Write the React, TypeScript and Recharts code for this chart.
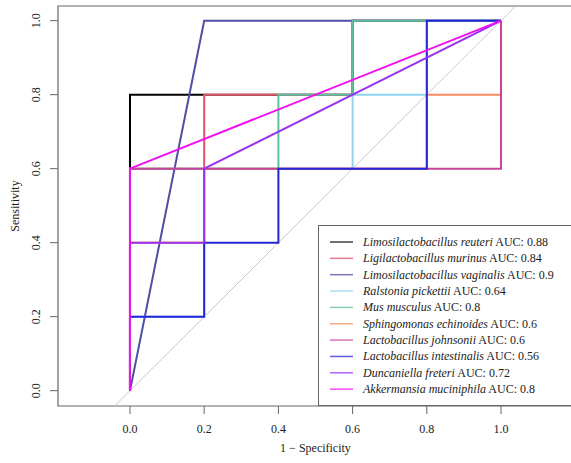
import React from 'react';
import { LineChart, Line, XAxis, YAxis, ReferenceArea } from 'recharts';

// ---- data ----
const xTicks = [0, 0.2, 0.4, 0.6, 0.8, 1.0];
const yTicks = [0, 0.2, 0.4, 0.6, 0.8, 1.0];
const xDomain: [number, number] = [-0.194, 1.194];
const yDomain: [number, number] = [-0.0414, 1.0397];

const speciesNames = [
  'Limosilactobacillus reuteri',
  'Ligilactobacillus murinus',
  'Limosilactobacillus vaginalis',
  'Ralstonia pickettii',
  'Mus musculus',
  'Sphingomonas echinoides',
  'Lactobacillus johnsonii',
  'Lactobacillus intestinalis',
  'Duncaniella freteri',
  'Akkermansia muciniphila',
];
const aucValues = ['0.88', '0.84', '0.9', '0.64', '0.8', '0.6', '0.6', '0.56', '0.72', '0.8'];

// 1 - specificity (false positive rate) and sensitivity per curve
const fprReuteri = [0, 0, 0.6, 0.6, 1];
const tprReuteri = [0, 0.8, 0.8, 1, 1];
const fprMurinus = [0, 0, 0.2, 0.2, 0.6, 0.6, 1];
const tprMurinus = [0, 0.6, 0.6, 0.8, 0.8, 1, 1];
const fprVaginalis = [0, 0.2, 1];
const tprVaginalis = [0, 1, 1];
const fprRalstonia = [0, 0, 0.2, 0.2, 0.6, 0.6, 0.8, 0.8, 1];
const tprRalstonia = [0, 0.2, 0.2, 0.6, 0.6, 0.8, 0.8, 1, 1];
const fprMus = [0, 0, 0.4, 0.4, 0.6, 0.6, 1];
const tprMus = [0, 0.6, 0.6, 0.8, 0.8, 1, 1];
const fprSphingo = [0, 0, 0.2, 0.2, 0.8, 0.8, 1, 1];
const tprSphingo = [0, 0.4, 0.4, 0.6, 0.6, 0.8, 0.8, 1];
const fprJohnsonii = [0, 0, 1, 1];
const tprJohnsonii = [0, 0.6, 0.6, 1];
const fprIntestinalis = [0, 0, 0.2, 0.2, 0.4, 0.4, 0.8, 0.8, 1];
const tprIntestinalis = [0, 0.2, 0.2, 0.4, 0.4, 0.6, 0.6, 1, 1];
const fprDuncaniella = [0, 0, 0.2, 0.2, 1];
const tprDuncaniella = [0, 0.4, 0.4, 0.6, 1];
const fprAkkermansia = [0, 0, 1];
const tprAkkermansia = [0, 0.6, 1];

const fprList = [fprReuteri, fprMurinus, fprVaginalis, fprRalstonia, fprMus, fprSphingo, fprJohnsonii, fprIntestinalis, fprDuncaniella, fprAkkermansia];
const tprList = [tprReuteri, tprMurinus, tprVaginalis, tprRalstonia, tprMus, tprSphingo, tprJohnsonii, tprIntestinalis, tprDuncaniella, tprAkkermansia];

// ---- styles ----
const colors = ['#000000', '#E05468', '#4F4FA6', '#8ED4EE', '#5EBF9E', '#F98C60', '#C8439A', '#2424D8', '#9A30F0', '#F010F0'];
const FONT = '"Times New Roman", "Liberation Serif", Times, serif';
const AXIS_COLOR = '#666666';

const curves = speciesNames.map((name, i) => ({
  name,
  auc: aucValues[i],
  color: colors[i],
  points: fprList[i].map((x, j) => ({ x, y: tprList[i][j] })),
}));

const diagonal = [
  { x: yDomain[0], y: yDomain[0] },
  { x: yDomain[1], y: yDomain[1] },
];

const YTick = (props: any) => {
  const { x, y, payload } = props;
  return (
    <text x={x} y={y} transform={`rotate(-90, ${x}, ${y})`} textAnchor="middle" fontSize={12} fill="#222" style={{ fontFamily: FONT }}>
      {Number(payload.value).toFixed(1)}
    </text>
  );
};

const XTick = (props: any) => {
  const { x, y, payload } = props;
  return (
    <text x={x} y={y} dy={17} textAnchor="middle" fontSize={12} fill="#222" style={{ fontFamily: FONT }}>
      {Number(payload.value).toFixed(1)}
    </text>
  );
};

const YTitle = (props: any) => {
  const vb = props.viewBox || { x: 0, y: 6, width: 58, height: 400 };
  const cx = vb.x + 18.5;
  const cy = vb.y + vb.height / 2;
  return (
    <text x={cx} y={cy} transform={`rotate(-90, ${cx}, ${cy})`} textAnchor="middle" fontSize={12} fill="#222" style={{ fontFamily: FONT }}>
      Sensitivity
    </text>
  );
};

const XTitle = (props: any) => {
  const vb = props.viewBox || { x: 58, y: 406, width: 515, height: 57 };
  const cx = vb.x + vb.width / 2;
  const cy = vb.y + 46;
  return (
    <text x={cx} y={cy} textAnchor="middle" fontSize={12} fill="#222" style={{ fontFamily: FONT }}>
      1 − Specificity
    </text>
  );
};

const LegendBox = () => (
  <svg
    width={300}
    height={182}
    style={{ position: 'absolute', left: 318, top: 225, overflow: 'visible' }}
  >
    <rect x={0.5} y={0.5} width={298} height={180} fill="#fff" stroke={AXIS_COLOR} strokeWidth={1} />
    {curves.map((c, i) => {
      const cy = 17 + i * 16.35;
      return (
        <g key={c.name}>
          <line x1={12} x2={35} y1={cy} y2={cy} stroke={c.color} strokeWidth={1.5} strokeOpacity={0.75} />
          <text x={45} y={cy + 4} fontSize={12} fill="#222" style={{ fontFamily: FONT }}>
            <tspan fontStyle="italic">{c.name}</tspan>
            <tspan> AUC: {c.auc}</tspan>
          </text>
        </g>
      );
    })}
  </svg>
);

export default function App() {
  return (
    <div
      style={{
        position: 'absolute',
        left: 0,
        top: 0,
        width: 571,
        height: 463,
        overflow: 'hidden',
        background: '#fff',
        fontFamily: FONT,
      }}
    >
      <LineChart width={600} height={463} margin={{ top: 6, right: 27, bottom: 0, left: 0 }}>
        <XAxis
          dataKey="x"
          type="number"
          domain={xDomain}
          ticks={xTicks}
          allowDataOverflow
          axisLine={false}
          tickLine={{ stroke: AXIS_COLOR }}
          tickSize={8}
          tick={<XTick />}
          height={57}
          label={<XTitle />}
        />
        <YAxis
          dataKey="y"
          type="number"
          domain={yDomain}
          ticks={yTicks}
          allowDataOverflow
          axisLine={false}
          tickLine={{ stroke: AXIS_COLOR }}
          tickSize={8}
          tickMargin={10}
          tick={<YTick />}
          width={58}
          label={<YTitle />}
        />
        <ReferenceArea
          x1={xDomain[0]}
          x2={xDomain[1]}
          y1={yDomain[0]}
          y2={yDomain[1]}
          fill="none"
          fillOpacity={0}
          stroke={AXIS_COLOR}
          strokeWidth={1.2}
          ifOverflow="visible"
        />
        <Line
          data={diagonal}
          dataKey="y"
          stroke="#C8C8C8"
          strokeWidth={1}
          dot={false}
          activeDot={false}
          isAnimationActive={false}
          legendType="none"
        />
        {curves.map((c) => (
          <Line
            key={c.name}
            name={c.name}
            data={c.points}
            dataKey="y"
            type="linear"
            stroke={c.color}
            strokeWidth={2}
            dot={false}
            activeDot={false}
            isAnimationActive={false}
          />
        ))}
      </LineChart>
      <LegendBox />
    </div>
  );
}
